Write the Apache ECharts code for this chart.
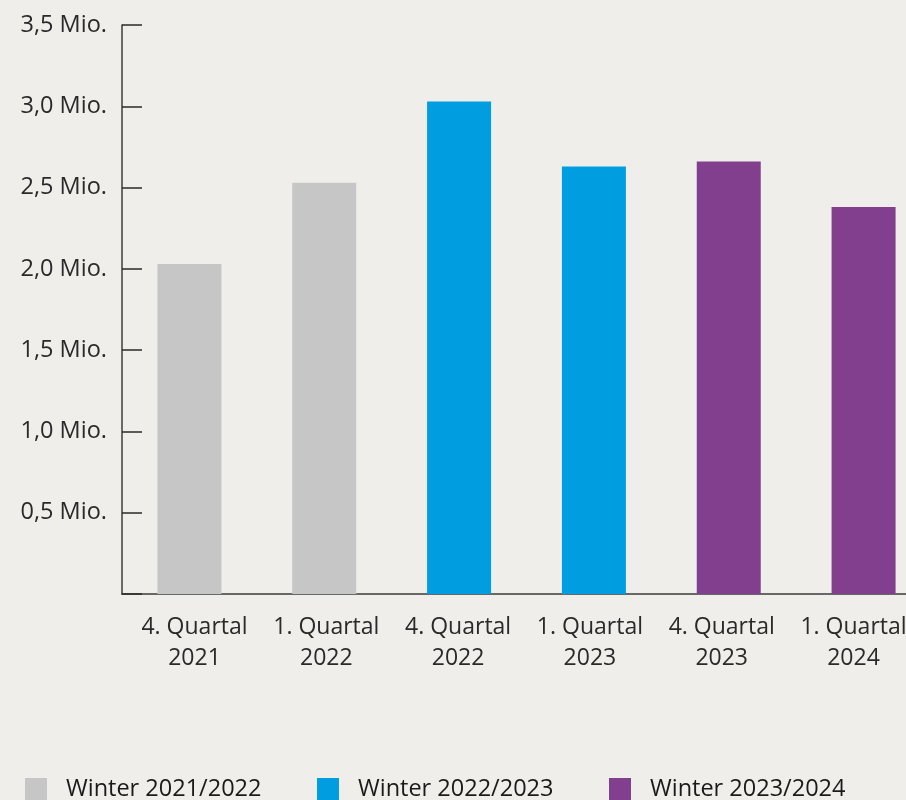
<!DOCTYPE html>
<html>
<head>
<meta charset="utf-8">
<script src="https://cdn.jsdelivr.net/npm/echarts@6/dist/echarts.min.js"></script>
<style>
html,body{margin:0;padding:0;background:#efeeea;}
#c{width:906px;height:800px;}
</style>
</head>
<body>
<div id="c"></div>
<script>
const categories = ['4. Quartal\n2021','1. Quartal\n2022','4. Quartal\n2022','1. Quartal\n2023','4. Quartal\n2023','1. Quartal\n2024'];
const seriesNames = ['Winter 2021/2022','Winter 2022/2023','Winter 2023/2024'];
const winter2122 = [2.03, 2.53, '-', '-', '-', '-'];
const winter2223 = ['-', '-', 3.03, 2.63, '-', '-'];
const winter2324 = ['-', '-', '-', '-', 2.66, 2.38];
const colors = ['#c6c6c6', '#009ee0', '#823f8e'];

const font = '"Open Sans", sans-serif';
const chart = echarts.init(document.getElementById('c'), null, {renderer:'canvas'});
const dataSets = [winter2122, winter2223, winter2324];
const legendLeft = [25, 317, 609];
chart.setOption({
  backgroundColor: '#efeeea',
  animation: false,
  textStyle: {fontFamily: font},
  grid: [
    {left: 122, width: 809, top: 25, height: 569, containLabel: false, outerBoundsMode: 'none'},
    {left: 128.6, width: 790.8, top: 25, height: 569, containLabel: false, outerBoundsMode: 'none'}
  ],
  legend: seriesNames.map((n, i) => ({
    data: [n], left: legendLeft[i], top: 777, padding: 0, itemWidth: 22, itemHeight: 22, itemGap: 0,
    icon: 'rect',
    textStyle: {fontFamily: font, fontSize: 23.5, color: '#1a1a1a', padding: [0, 0, 0, 14]}
  })),
  xAxis: [
    {
      type: 'category', data: categories, gridIndex: 0,
      axisLine: {show: true, lineStyle: {color: '#3c3c3c', width: 1.5}},
      axisTick: {show: false},
      axisLabel: {show: false}
    },
    {
      type: 'category', data: categories, gridIndex: 1,
      axisLine: {show: false},
      axisTick: {show: false},
      axisLabel: {fontFamily: font, fontSize: 23, color: '#2a2a2a', lineHeight: 31, margin: 18, interval: 0, hideOverlap: false}
    }
  ],
  yAxis: [
    {
      type: 'value', min: 0, max: 3.5, interval: 0.5, gridIndex: 0,
      splitLine: {show: false},
      axisLine: {show: true, lineStyle: {color: '#3c3c3c', width: 1.5}},
      axisTick: {show: true, inside: true, length: 20, lineStyle: {color: '#2a2a2a', width: 1.5}},
      axisLabel: {fontFamily: font, fontSize: 23.5, color: '#2a2a2a', margin: 15,
        formatter: v => v === 0 ? '' : v.toFixed(1).replace('.', ',') + ' Mio.'}
    },
    {
      type: 'value', min: 0, max: 3.5, interval: 0.5, gridIndex: 1, show: false
    }
  ],
  series: seriesNames.map((n, i) => ({
    name: n, type: 'bar', stack: 'all', barWidth: 64,
    xAxisIndex: 0, yAxisIndex: 0,
    itemStyle: {color: colors[i]},
    data: dataSets[i]
  }))
});
</script>
</body>
</html>
